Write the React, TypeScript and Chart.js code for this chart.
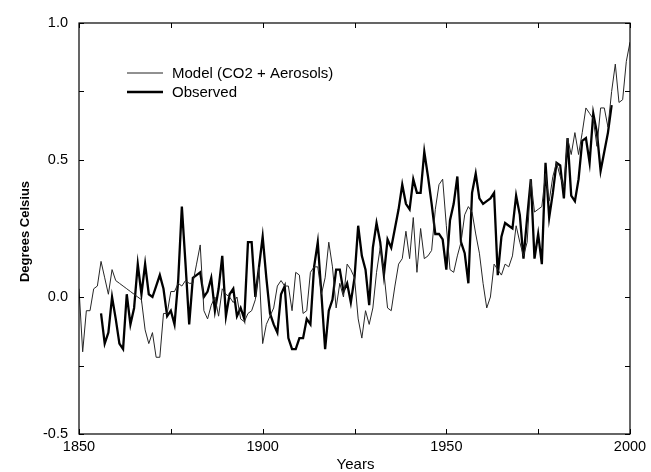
import React, { useEffect, useRef } from 'react';
import { Chart, registerables } from 'chart.js';

Chart.register(...registerables);

// ---- data ----
const MODEL_START_YEAR = 1850;
const modelValues = [
  0.03, -0.20, -0.05, -0.05, 0.03, 0.04, 0.13, 0.07, 0.01, 0.10, // 1850-1859
  0.06, 0.05, 0.04, 0.03, 0.02, 0.01, 0.00, -0.01, -0.12, -0.17, // 1860-1869
  -0.13, -0.22, -0.22, -0.06, -0.06, 0.02, 0.02, 0.05, 0.04, 0.06, // 1870-1879
  0.05, 0.05, 0.12, 0.19, -0.05, -0.08, -0.03, 0.00, -0.07, 0.03, // 1880-1889
  0.01, 0.00, -0.02, 0.00, -0.08, -0.09, -0.06, -0.05, -0.01, 0.11, // 1890-1899
  -0.17, -0.10, -0.07, -0.04, 0.04, 0.06, 0.04, 0.04, -0.05, 0.09, // 1900-1909
  0.08, -0.06, -0.05, 0.09, 0.11, 0.11, 0.01, 0.07, 0.20, 0.11, // 1910-1919
  -0.04, 0.05, 0.00, 0.12, 0.10, 0.07, -0.08, -0.15, -0.05, -0.10, // 1920-1929
  -0.04, 0.09, 0.18, 0.09, -0.04, -0.05, 0.04, 0.12, 0.14, 0.24, // 1930-1939
  0.14, 0.29, 0.09, 0.25, 0.14, 0.15, 0.17, 0.32, 0.41, 0.43, // 1940-1949
  0.26, 0.10, 0.09, 0.15, 0.20, 0.30, 0.33, 0.31, 0.23, 0.16, // 1950-1959
  0.05, -0.04, 0.00, 0.12, 0.10, 0.08, 0.12, 0.11, 0.15, 0.26, // 1960-1969
  0.20, 0.15, 0.20, 0.43, 0.31, 0.32, 0.33, 0.45, 0.35, 0.44, // 1970-1979
  0.49, 0.44, 0.40, 0.58, 0.52, 0.60, 0.52, 0.60, 0.69, 0.67, // 1980-1989
  0.65, 0.55, 0.69, 0.69, 0.62, 0.75, 0.85, 0.71, 0.72, 0.86, // 1990-1999
  0.93, // 2000
];

const OBSERVED_START_YEAR = 1856;
const observedValues = [
  -0.06, -0.17, -0.13, 0.00, // 1856-1859
  -0.08, -0.17, -0.19, 0.01, -0.10, -0.04, 0.12, 0.01, 0.12, 0.01, // 1860-1869
  0.00, 0.04, 0.08, 0.03, -0.07, -0.05, -0.10, 0.06, 0.33, 0.12, // 1870-1879
  -0.10, 0.07, 0.08, 0.09, 0.00, 0.02, 0.07, -0.05, 0.03, 0.15, // 1880-1889
  -0.07, 0.01, 0.03, -0.07, -0.04, -0.08, 0.20, 0.20, 0.00, 0.11, // 1890-1899
  0.22, 0.07, -0.06, -0.10, -0.13, 0.01, 0.04, -0.15, -0.19, -0.19, // 1900-1909
  -0.15, -0.15, -0.08, -0.10, 0.11, 0.20, 0.01, -0.19, -0.05, -0.01, // 1910-1919
  0.10, 0.10, 0.02, 0.05, -0.02, 0.07, 0.26, 0.15, 0.10, -0.03, // 1920-1929
  0.18, 0.27, 0.20, 0.08, 0.21, 0.18, 0.25, 0.32, 0.41, 0.34, // 1930-1939
  0.32, 0.43, 0.38, 0.38, 0.53, 0.44, 0.34, 0.23, 0.23, 0.21, // 1940-1949
  0.10, 0.28, 0.34, 0.44, 0.20, 0.16, 0.05, 0.38, 0.45, 0.36, // 1950-1959
  0.34, 0.35, 0.36, 0.38, 0.08, 0.22, 0.27, 0.26, 0.25, 0.37, // 1960-1969
  0.30, 0.14, 0.29, 0.43, 0.14, 0.23, 0.12, 0.49, 0.29, 0.38, // 1970-1979
  0.49, 0.48, 0.36, 0.58, 0.37, 0.35, 0.43, 0.57, 0.58, 0.49, // 1980-1989
  0.67, 0.60, 0.46, 0.53, 0.60, 0.70, // 1990-1995
];

const seriesLabels = ['Model (CO2 + Aerosols)', 'Observed'];
const xTickValues = [1850, 1875, 1900, 1925, 1950, 1975, 2000];
const xTickLabels = ['1850', '', '1900', '', '1950', '', '2000'];
const yTickValues = [-0.5, -0.25, 0, 0.25, 0.5, 0.75, 1.0];
const yTickLabels = ['-0.5', '', '0.0', '', '0.5', '', '1.0'];
const xTitle = 'Years';
const yTitle = 'Degrees Celsius';

const FONT = '"Liberation Sans", Arial, Helvetica, sans-serif';

function toPoints(start: number, values: number[]) {
  return values.map((v, i) => ({ x: start + i, y: v }));
}

const framePlugin = {
  id: 'frameAndDecor',
  afterDraw(chart: any) {
    const { ctx, chartArea, scales } = chart;
    const { left, right, top, bottom } = chartArea;
    const xs = scales.x;
    const ys = scales.y;
    ctx.save();
    ctx.strokeStyle = '#000';
    ctx.lineWidth = 1.2;
    ctx.strokeRect(left, top, right - left, bottom - top);
    // inward ticks
    ctx.lineWidth = 1;
    const tl = 5;
    xTickValues.forEach((v) => {
      const px = Math.round(xs.getPixelForValue(v)) + 0.5;
      ctx.beginPath();
      ctx.moveTo(px, bottom);
      ctx.lineTo(px, bottom - tl);
      ctx.moveTo(px, top);
      ctx.lineTo(px, top + tl);
      ctx.stroke();
    });
    yTickValues.forEach((v) => {
      const py = Math.round(ys.getPixelForValue(v)) + 0.5;
      ctx.beginPath();
      ctx.moveTo(left, py);
      ctx.lineTo(left + tl, py);
      ctx.moveTo(right, py);
      ctx.lineTo(right - tl, py);
      ctx.stroke();
    });
    // legend
    const lx0 = left + 48;
    const lx1 = left + 84;
    const tx = left + 93;
    const rows = [top + 50, top + 69];
    const widths = [1, 2.4];
    ctx.fillStyle = '#000';
    ctx.font = `15px ${FONT}`;
    ctx.textBaseline = 'middle';
    ctx.textAlign = 'left';
    rows.forEach((ry, i) => {
      ctx.lineWidth = widths[i];
      ctx.strokeStyle = i === 0 ? '#222' : '#000';
      ctx.beginPath();
      ctx.moveTo(lx0, ry);
      ctx.lineTo(lx1, ry);
      ctx.stroke();
      ctx.fillText(seriesLabels[i], tx, ry + 1);
    });
    // axis titles
    ctx.font = `15px ${FONT}`;
    ctx.textAlign = 'center';
    ctx.textBaseline = 'alphabetic';
    ctx.fillText(xTitle, (left + right) / 2 + 1, 469);
    ctx.save();
    ctx.translate(29, (top + bottom) / 2 + 3);
    ctx.rotate(-Math.PI / 2);
    ctx.font = `bold 13px ${FONT}`;
    ctx.textBaseline = 'alphabetic';
    ctx.fillText(yTitle, 0, 0);
    ctx.restore();
    ctx.restore();
  },
};

export default function App() {
  const ref = useRef<HTMLCanvasElement | null>(null);
  useEffect(() => {
    if (!ref.current) return;
    const chart = new Chart(ref.current, {
      type: 'line',
      data: {
        datasets: [
          {
            label: seriesLabels[0],
            data: toPoints(MODEL_START_YEAR, modelValues),
            borderColor: '#262626',
            borderWidth: 1,
            pointRadius: 0,
            tension: 0,
            fill: false,
          },
          {
            label: seriesLabels[1],
            data: toPoints(OBSERVED_START_YEAR, observedValues),
            borderColor: '#000',
            borderWidth: 2.3,
            pointRadius: 0,
            tension: 0,
            fill: false,
          },
        ],
      },
      options: {
        animation: false,
        responsive: false,
        devicePixelRatio: 1,
        layout: { padding: { left: 0, right: 21, top: 23, bottom: 0 } },
        plugins: {
          legend: { display: false },
          tooltip: { enabled: false },
          title: { display: false },
        },
        scales: {
          x: {
            type: 'linear',
            min: 1850,
            max: 2000,
            afterBuildTicks: (scale: any) => {
              scale.ticks = xTickValues.map((v) => ({ value: v }));
            },
            afterFit: (scale: any) => {
              scale.height = 38;
            },
            grid: { display: false, drawTicks: false },
            border: { display: false },
            ticks: {
              autoSkip: false,
              maxRotation: 0,
              padding: 4,
              color: '#000',
              font: { family: FONT, size: 14.5 },
              callback: (_v: any, i: number) => xTickLabels[i],
            },
          },
          y: {
            type: 'linear',
            min: -0.5,
            max: 1.0,
            afterBuildTicks: (scale: any) => {
              scale.ticks = yTickValues.map((v) => ({ value: v }));
            },
            afterFit: (scale: any) => {
              scale.width = 79;
            },
            grid: { display: false, drawTicks: false },
            border: { display: false },
            ticks: {
              autoSkip: false,
              padding: 11,
              color: '#000',
              font: { family: FONT, size: 14.5 },
              callback: (_v: any, i: number) => yTickLabels[i],
            },
          },
        },
      },
      plugins: [framePlugin],
    } as any);
    return () => chart.destroy();
  }, []);
  return (
    <div style={{ position: 'fixed', left: 0, top: 0, width: 651, height: 472, background: '#fff' }}>
      <canvas ref={ref} width={651} height={472} style={{ display: 'block' }} />
    </div>
  );
}
